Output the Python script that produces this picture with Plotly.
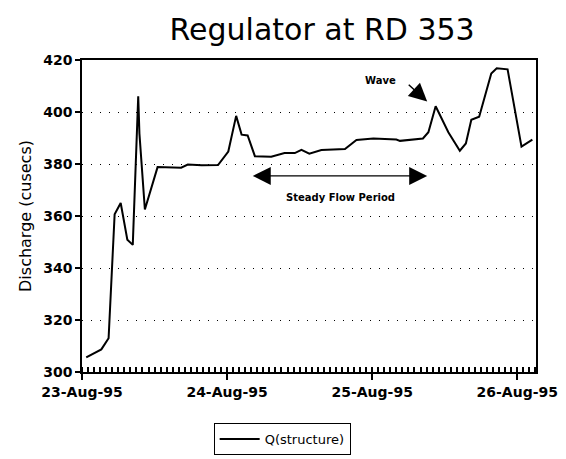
import plotly.graph_objects as go
import pandas as pd

# hours after 23-Aug-95 00:00
hours = [0.7, 3.2, 4.4, 5.4, 6.4, 7.5, 8.4, 9.1, 9.3, 9.5, 10.4, 12.5, 16.4, 17.5,
         19.8, 22.5, 24.2, 25.5, 26.4, 27.4, 28.6, 31.3, 33.5, 35.2, 36.3, 37.6,
         39.6, 43.5, 45.4, 48.2, 52.0, 52.6, 56.4, 57.3, 58.5, 60.6, 62.5, 63.5,
         64.4, 65.7, 67.7, 68.6, 70.4, 72.7, 74.5]
discharge = [305.6, 308.7, 313.0, 360.7, 365.0, 350.9, 348.9, 392.0, 406.0, 391.7,
             362.5, 378.8, 378.6, 379.8, 379.5, 379.6, 384.8, 398.5, 391.3, 391.0,
             383.0, 382.8, 384.2, 384.2, 385.4, 384.0, 385.4, 385.8, 389.2, 389.8,
             389.4, 388.9, 389.8, 392.2, 402.2, 392.2, 385.1, 387.9, 397.0, 398.2,
             414.8, 416.8, 416.4, 386.7, 389.4]
series_name = "Q(structure)"
title_text = "Regulator at RD 353"
y_title = "Discharge (cusecs)"

start = pd.Timestamp("1995-08-23 00:00")
times = [start + pd.Timedelta(hours=h) for h in hours]
def T(h):
    return (start + pd.Timedelta(hours=h)).strftime("%Y-%m-%d %H:%M:%S")

xrange_ = [T(0), T(75.1)]

fig = go.Figure()
fig.add_trace(go.Scatter(x=times, y=discharge, mode="lines", name=series_name,
                         line=dict(color="black", width=2)))

fig.update_layout(
    width=566, height=459,
    margin=dict(l=74, r=38, t=52, b=84),
    paper_bgcolor="white", plot_bgcolor="white",
    title=dict(text=title_text, x=0.555, xanchor="center", y=0.954, yanchor="middle",
               font=dict(family="DejaVu Sans", size=30, color="black")),
    showlegend=True,
    legend=dict(x=0.290, y=-0.164, xanchor="left", yanchor="top",
                bordercolor="black", borderwidth=1, bgcolor="white",
                itemwidth=40,
                font=dict(family="DejaVu Sans", size=13, color="black")),
    font=dict(family="DejaVu Sans", color="black"),
)

fig.update_xaxes(
    type="date",
    range=xrange_,
    tickmode="linear", tick0="1995-08-23", dtick=86400000, tickformat="%d-%b-%y",
    ticks="outside", ticklen=6, tickcolor="black", tickwidth=1.5,
    minor=dict(tickmode="linear", tick0="1995-08-23 00:00:00", dtick=3600000,
               ticks="inside", ticklen=5, tickcolor="black", tickwidth=1.5,
               showgrid=False),
    showline=True, linecolor="black", linewidth=1.5, mirror=True,
    showgrid=False, zeroline=False,
    tickfont=dict(family="DejaVu Sans", size=14, color="black", weight="bold"),
)

fig.update_yaxes(
    range=[300, 420], dtick=20, tick0=300,
    ticks="outside", ticklen=5, tickcolor="black", tickwidth=1.5,
    showline=True, linecolor="black", linewidth=1.5, mirror=True,
    showgrid=True, gridcolor="black", gridwidth=1, griddash="1px,8px",
    zeroline=False,
    tickfont=dict(family="DejaVu Sans", size=14, color="black", weight="bold"),
    title=dict(text=y_title, font=dict(family="DejaVu Sans", size=16, color="black"), standoff=8),
)

# Wave annotation
fig.add_annotation(x=T(57.1), y=404.0, ax=T(53.8), ay=411.0, xref="x", yref="y",
                   axref="x", ayref="y", text="", showarrow=True,
                   arrowhead=2, arrowsize=2.4, arrowwidth=1.5, arrowcolor="black")
fig.add_annotation(x=T(49.3), y=412.2, xref="x", yref="y", text="Wave", showarrow=False,
                   font=dict(family="DejaVu Sans", size=10, color="black", weight="bold"))

# Steady flow period double arrow
fig.add_annotation(x=T(57.1), y=375.4, ax=T(28.0), ay=375.4, xref="x", yref="y",
                   axref="x", ayref="y", text="", showarrow=True, arrowside="end+start",
                   arrowhead=2, startarrowhead=2, arrowsize=3.0, startarrowsize=3.0,
                   arrowwidth=1.2, arrowcolor="black")
fig.add_annotation(x=T(42.7), y=367.3, xref="x", yref="y", text="Steady Flow Period",
                   showarrow=False,
                   font=dict(family="DejaVu Sans", size=10, color="black", weight="bold"))

fig.write_html("out.html")
